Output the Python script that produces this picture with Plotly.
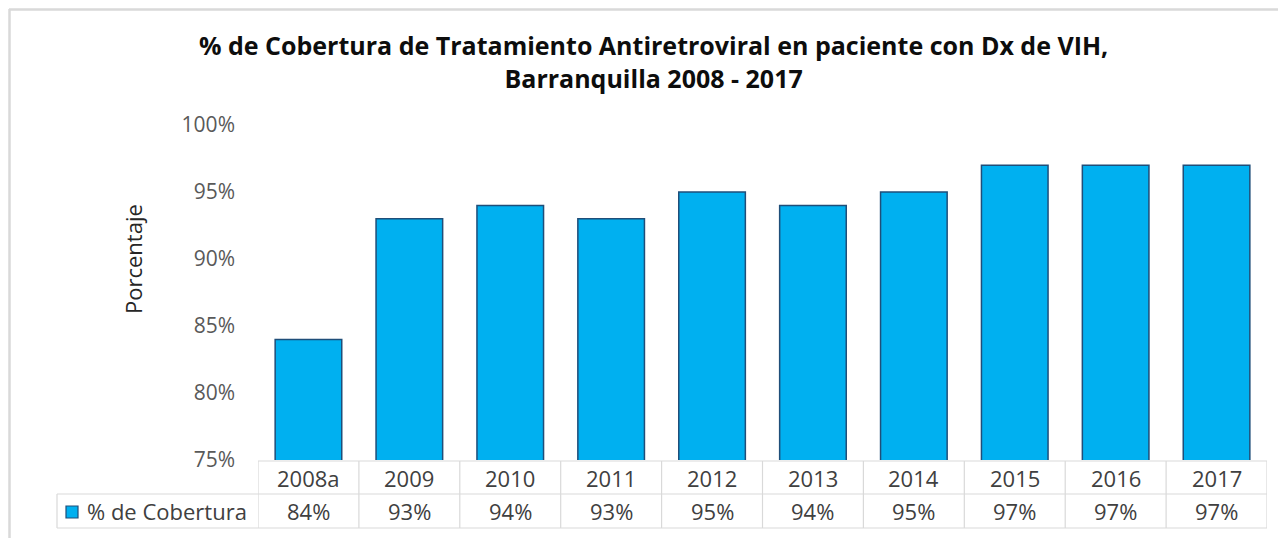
import plotly.graph_objects as go

years = ["2008a", "2009", "2010", "2011", "2012", "2013", "2014", "2015", "2016", "2017"]
coverage = [0.84, 0.93, 0.94, 0.93, 0.95, 0.94, 0.95, 0.97, 0.97, 0.97]
value_labels = ["84%", "93%", "94%", "93%", "95%", "94%", "95%", "97%", "97%", "97%"]
series_name = "% de Cobertura"
title_lines = ["% de Cobertura de Tratamiento Antiretroviral en paciente con Dx de VIH,",
               "Barranquilla 2008 - 2017"]

OFF = 8                      # page body offset of the figure
W, H = 1286 - OFF, 538 - OFF
L, R, T, B = 258, 1267, 125, 460   # plot area in page pixels
FONT = "Open Sans"

def px(x):
    return (x - L) / (R - L)

def py(y):
    return (B - y) / (B - T)

xs = list(range(len(years)))

fig = go.Figure()
fig.add_trace(go.Bar(
    x=xs, y=coverage, width=0.66,
    marker=dict(color="#00B0F0", line=dict(color="#1F4E79", width=1.5)),
    showlegend=False, hoverinfo="skip"))

shapes = []
annotations = []
grid_color = "#D9D9D9"

# chart border (top and left)
shapes.append(dict(type="line", xref="paper", yref="paper", x0=px(9), x1=px(1300), y0=py(9.5), y1=py(9.5),
                   line=dict(color="#D9D9D9", width=2.5)))
shapes.append(dict(type="line", xref="paper", yref="paper", x0=px(9.5), x1=px(9.5), y0=py(9), y1=py(545),
                   line=dict(color="#D9D9D9", width=2.5)))

# data table
row_top, row_mid, row_bot = 461, 494, 528
label_left = 57
for i in range(len(years) + 1):
    xv = i - 0.5
    shapes.append(dict(type="line", xref="x", yref="paper", x0=xv, x1=xv, y0=py(row_top), y1=py(row_bot),
                       line=dict(color=grid_color, width=1.2)))
shapes.append(dict(type="line", xref="paper", yref="paper", x0=px(label_left), x1=px(label_left),
                   y0=py(row_mid), y1=py(row_bot), line=dict(color=grid_color, width=1.2)))
shapes.append(dict(type="line", xref="paper", yref="paper", x0=0, x1=1, y0=py(row_top), y1=py(row_top),
                   line=dict(color=grid_color, width=1.2)))
for yy in (row_mid, row_bot):
    shapes.append(dict(type="line", xref="paper", yref="paper", x0=px(label_left), x1=1, y0=py(yy), y1=py(yy),
                       line=dict(color=grid_color, width=1.2)))

for i, (yr, vl) in enumerate(zip(years, value_labels)):
    annotations.append(dict(x=i, y=py((row_top + row_mid) / 2), xref="x", yref="paper", text=yr,
                            showarrow=False, font=dict(family=FONT, size=22, color="#404040"),
                            xanchor="center", yanchor="middle"))
    annotations.append(dict(x=i, y=py((row_mid + row_bot) / 2), xref="x", yref="paper", text=vl,
                            showarrow=False, font=dict(family=FONT, size=22, color="#404040"),
                            xanchor="center", yanchor="middle"))

# legend key
shapes.append(dict(type="rect", xref="paper", yref="paper", x0=px(66), x1=px(78), y0=py(506), y1=py(518),
                   fillcolor="#00B0F0", line=dict(color="#1F4E79", width=1.2)))
annotations.append(dict(x=px(85), y=py((row_mid + row_bot) / 2), xref="paper", yref="paper", text=series_name,
                        showarrow=False, font=dict(family=FONT, size=22, color="#404040"),
                        xanchor="left", yanchor="middle"))

# title (two lines, one text block)
annotations.append(dict(x=px(653), y=py(61), xref="paper", yref="paper",
                        text="<br>".join("<b>" + t + "</b>" for t in title_lines),
                        showarrow=False, font=dict(family=FONT, size=25, color="#0D0D0D"),
                        xanchor="center", yanchor="middle", align="center"))

# y axis title
annotations.append(dict(x=px(133), y=py(259), xref="paper", yref="paper", text="Porcentaje", textangle=-90,
                        showarrow=False, font=dict(family=FONT, size=22, color="#262626"),
                        xanchor="center", yanchor="middle"))

fig.update_layout(
    width=W, height=H,
    margin=dict(l=L - OFF, r=W - (R - OFF), t=T - OFF, b=H - (B - OFF), pad=0),
    paper_bgcolor="white", plot_bgcolor="white",
    xaxis=dict(range=[-0.5, len(years) - 0.5], showticklabels=False, showgrid=False, zeroline=False,
               showline=False, ticks=""),
    yaxis=dict(range=[0.75, 1.0], dtick=0.05, tickformat=".0%", showgrid=False, zeroline=False,
               showline=False, ticks="", ticklabelstandoff=22,
               tickfont=dict(family=FONT, size=21, color="#595959")),
    shapes=shapes, annotations=annotations,
    bargap=0.34,
)

fig.write_html("out.html")
